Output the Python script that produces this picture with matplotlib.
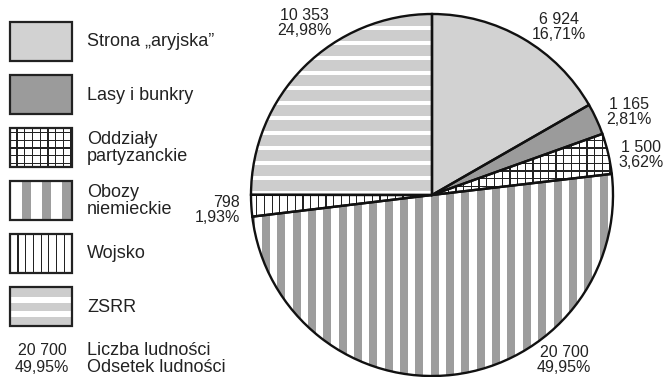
import numpy as np
import matplotlib.pyplot as plt
from matplotlib.patches import Rectangle
from matplotlib.collections import PatchCollection

plt.rcParams['font.family'] = ['Liberation Sans', 'DejaVu Sans']

# where people were during the war
categories = ["Strona „aryjska”", "Lasy i bunkry", "Oddziały\npartyzanckie",
              "Obozy\nniemieckie", "Wojsko", "ZSRR"]
counts = [6924, 1165, 1500, 20700, 798, 10353]
shares = [16.71, 2.81, 3.62, 49.95, 1.93, 24.98]

W, H = 666, 377


def Y(y):
    # pixel rows counted from the top
    return H - y


def fmt_count(c):
    return f"{c:,}".replace(",", " ")


def fmt_share(s):
    return f"{s:.2f}".replace(".", ",") + "%"


fills = ["#d2d2d2", "#9b9b9b", "white", "white", "white", "white"]


def bands(ax, clip, vertical, period, width, color, offset=0.0):
    rects = []
    n = int(max(W, H) / period) + 2
    for i in range(-n, n):
        p = offset + i * period
        if vertical:
            rects.append(Rectangle((p, 0), width, H))
        else:
            rects.append(Rectangle((0, Y(p) - width), W, width))
    pc = PatchCollection(rects, facecolor=color, edgecolor="none", zorder=2)
    ax.add_collection(pc)
    pc.set_clip_path(clip)


def texture(ax, clip, i, legend=False):
    if i == 2:
        bands(ax, clip, True, 7.7, 1.3, "#222222", 1)
        bands(ax, clip, False, 7.7, 1.3, "#222222", 1)
    elif i == 3:
        if legend:
            bands(ax, clip, True, 20, 8.5, "#9d9d9d", 22)
        else:
            bands(ax, clip, True, 15.35, 8, "#9d9d9d", 400)
    elif i == 4:
        bands(ax, clip, True, 7.7, 1.2, "#222222", 2)
    elif i == 5:
        if legend:
            bands(ax, clip, False, 14.6, 8.5, "#cdcdcd", 288)
        else:
            bands(ax, clip, False, 15, 11, "#cdcdcd", 0)


fig = plt.figure(figsize=(W / 100, H / 100), dpi=100)
ax = fig.add_axes([0, 0, 1, 1])

center = (432, Y(195))
radius = 181

wedges, _ = ax.pie(counts, startangle=90, counterclock=False,
                   center=center, radius=radius, frame=True, colors=fills,
                   wedgeprops=dict(linewidth=0, zorder=1))
for i, w in enumerate(wedges):
    texture(ax, w, i)

outline, _ = ax.pie(counts, startangle=90, counterclock=False,
                    center=center, radius=radius, frame=True,
                    wedgeprops=dict(fill=False, edgecolor="#111111",
                                    linewidth=1.7, zorder=3))

# value labels around the pie
label_pos = [(559, 27, "center"), (629, 112, "center"), (641, 155, "center"),
             (564, 360, "center"), (240, 210, "right"), (304, 23, "center")]
for c, s, (x, y, ha) in zip(counts, shares, label_pos):
    ax.text(x, Y(y), f"{fmt_count(c)}\n{fmt_share(s)}", ha=ha, va="center",
            multialignment=ha, fontsize=11.5, linespacing=0.95, color="#222222")

# legend
row_top = [22, 75, 128, 181, 234, 287]
for i, (name, top) in enumerate(zip(categories, row_top)):
    box = Rectangle((10, Y(top + 39)), 62, 39, facecolor=fills[i],
                    edgecolor="none", zorder=1)
    ax.add_patch(box)
    texture(ax, box, i, legend=True)
    ax.add_patch(Rectangle((10, Y(top + 39)), 62, 39, fill=False,
                           edgecolor="#222222", linewidth=1.6, zorder=3))
    ax.text(87, Y(top + 20), name, ha="left", va="center", fontsize=13,
            linespacing=1.0, color="#222222")

ax.text(42, Y(359), f"{fmt_count(counts[3])}\n{fmt_share(shares[3])}",
        ha="center", va="center", fontsize=11.5, linespacing=1.15,
        color="#222222")
ax.text(87, Y(359), "Liczba ludności\nOdsetek ludności", ha="left",
        va="center", fontsize=13, linespacing=1.0, color="#222222")

ax.set_xlim(0, W)
ax.set_ylim(0, H)
ax.axis("off")

fig.savefig("out.png", dpi=100)
